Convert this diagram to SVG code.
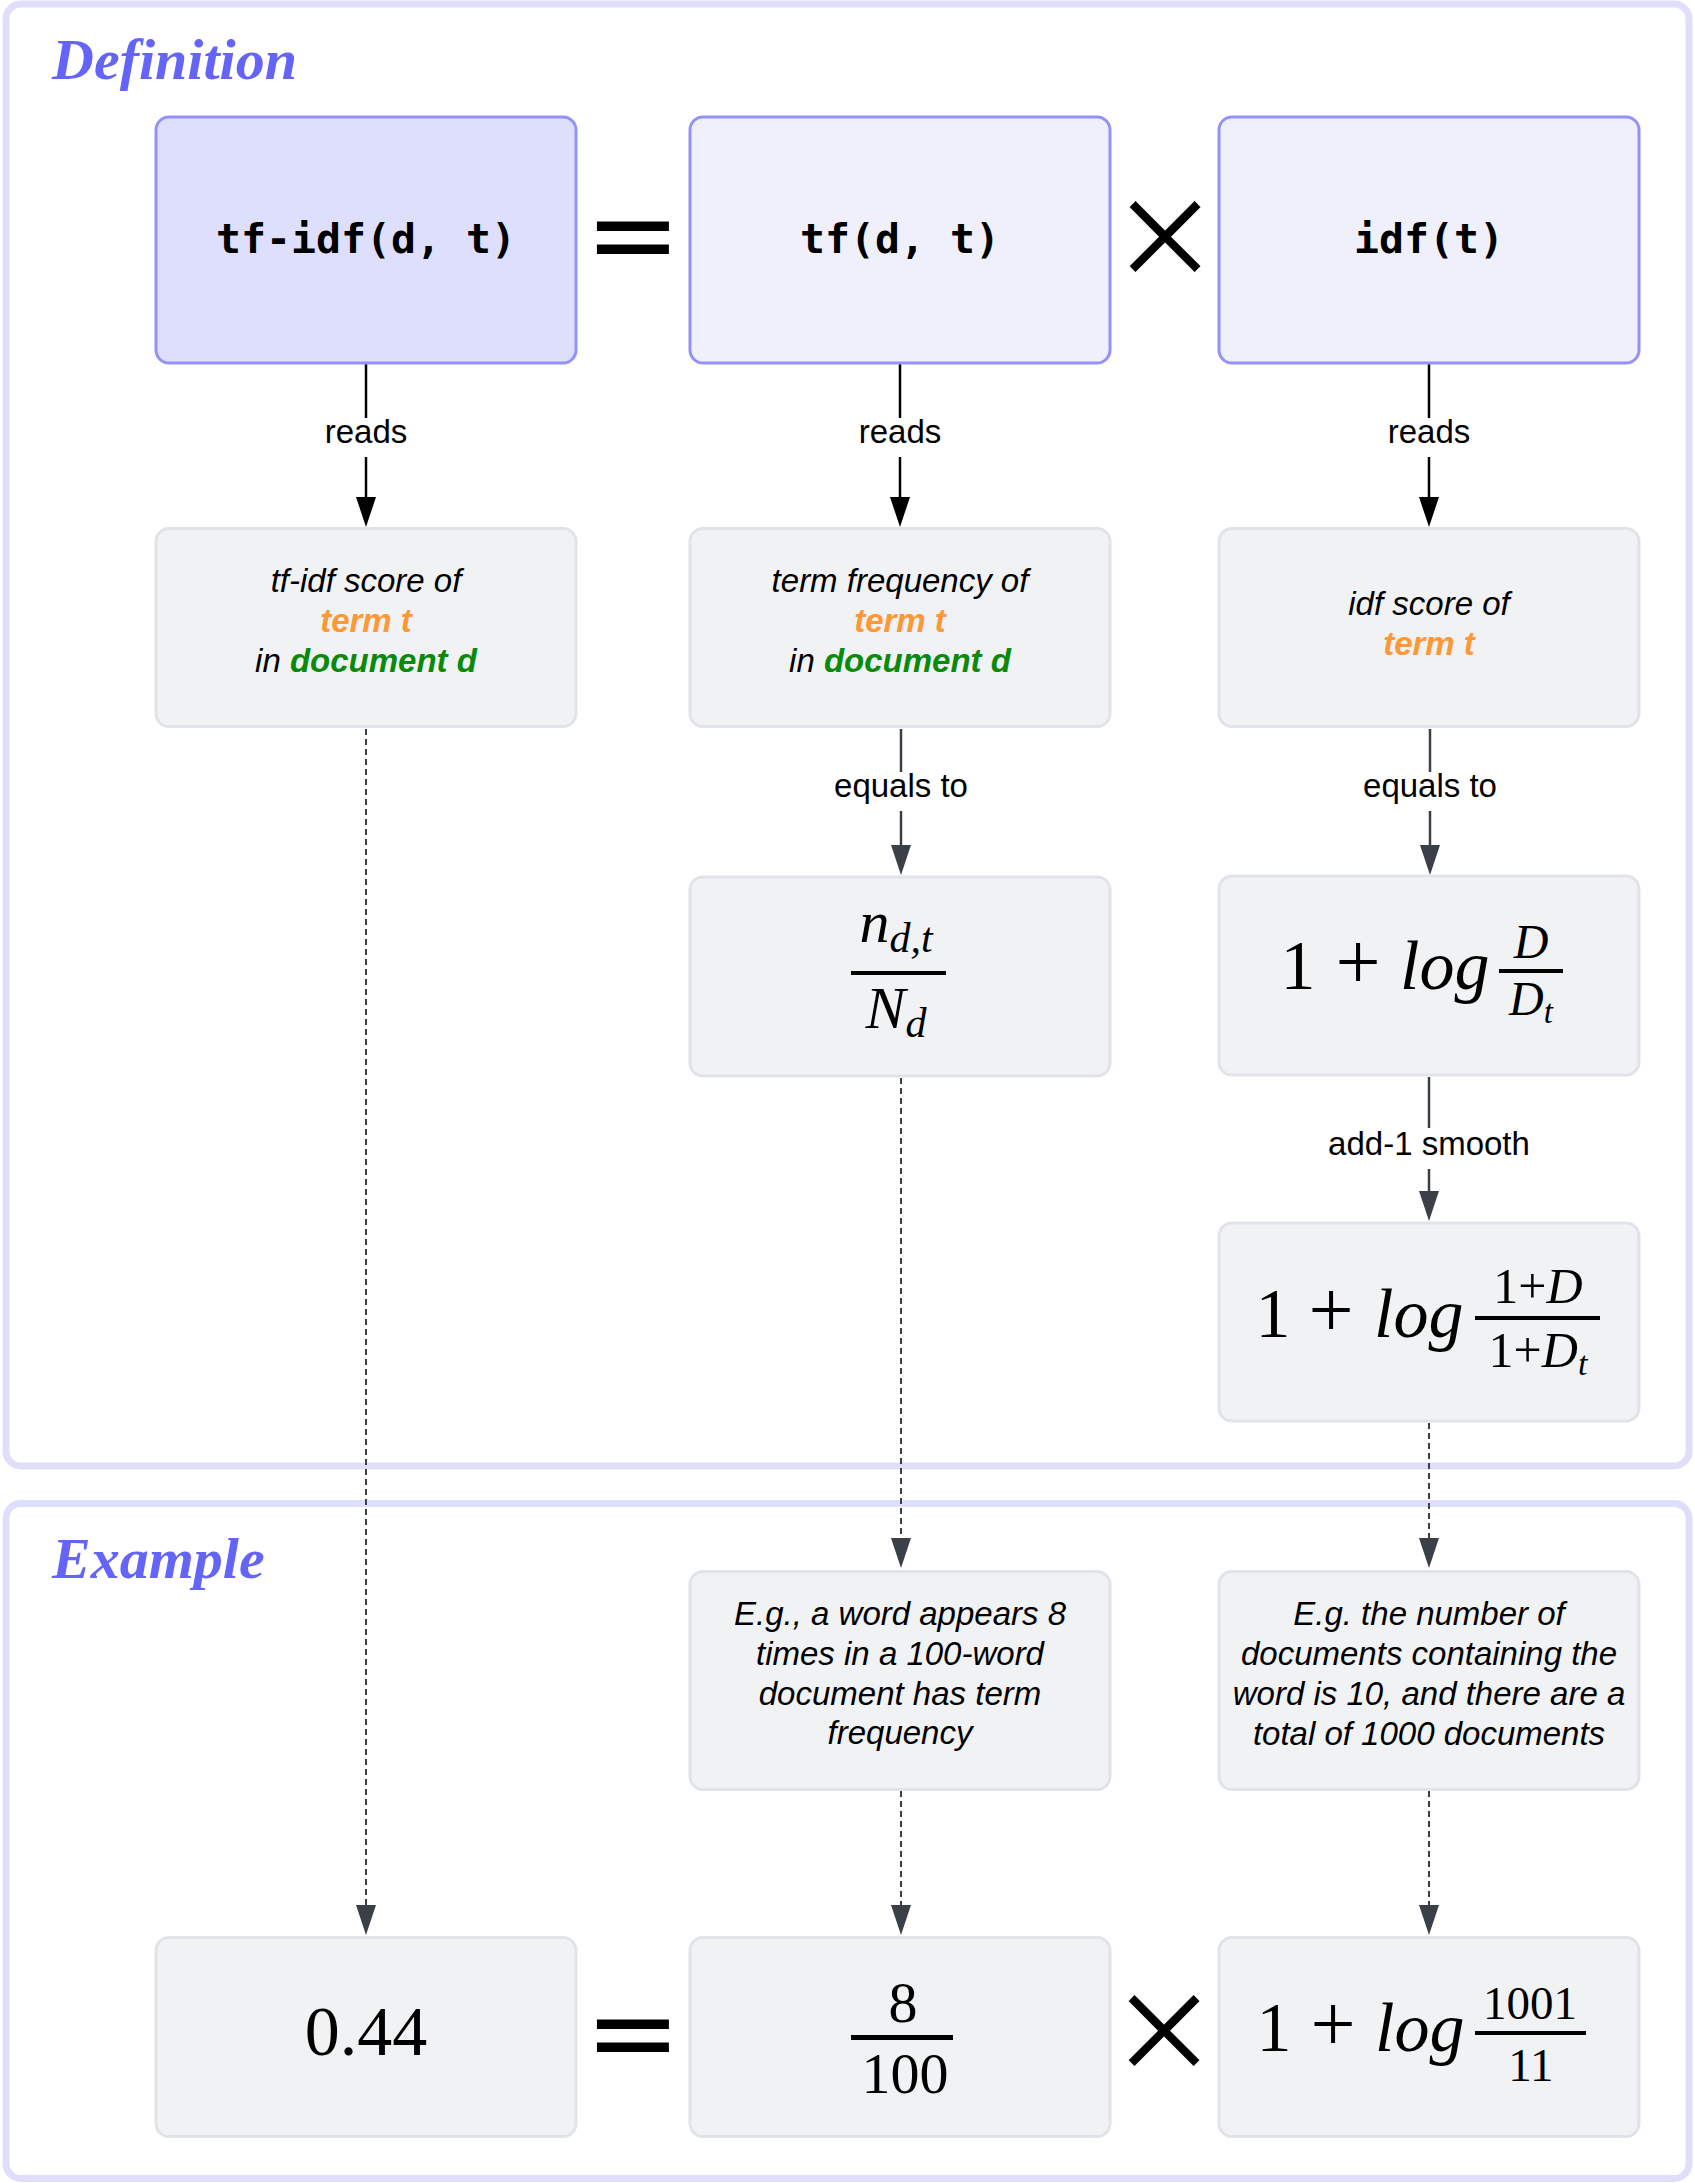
<svg xmlns="http://www.w3.org/2000/svg" width="1695" height="2183" viewBox="0 0 1695 2183">
<defs>
<style>
.container{fill:#ffffff;stroke:#dfdffc;stroke-width:7}
.title{font-family:"Liberation Serif",serif;font-weight:bold;font-style:italic;font-size:58px;fill:#6464f8}
.hdr-main{fill:#dedefd;stroke:#9292f8;stroke-width:3}
.hdr{fill:#f0f0fd;stroke:#9292f8;stroke-width:3}
.gray{fill:#f1f2f4;stroke:#e1e3e8;stroke-width:3}
.mono{font-family:"DejaVu Sans Mono",monospace;font-weight:bold;font-size:41.5px;fill:#000;text-anchor:middle}
.desc{font-family:"Liberation Sans",Arial,sans-serif;font-style:italic;font-size:33px;fill:#000;text-anchor:middle}
.orange{fill:#fd9836;font-weight:bold}
.green{fill:#0a8a0a;font-weight:bold}
.lbl{font-family:"Liberation Sans",Arial,sans-serif;font-size:33px;fill:#000;text-anchor:middle}
.lblbg{fill:#ffffff}
.op{font-family:"DejaVu Sans",sans-serif;font-size:115px;fill:#000;text-anchor:middle}
.opx{font-family:"DejaVu Sans",sans-serif;font-size:132px;fill:#000;text-anchor:middle;stroke:#ffffff;stroke-width:2.5}
.math{font-family:"Liberation Serif","Times New Roman",serif;fill:#000}
.big{font-size:70px;text-anchor:middle}
.plus{font-size:80px;text-anchor:middle}
.it{font-style:italic}
.bar{fill:#000}
.solid-k{stroke:#000;stroke-width:2.5;fill:none}
.solid-g{stroke:#3b4048;stroke-width:2.5;fill:none}
.dash-g{stroke:#3b4048;stroke-width:2;fill:none;stroke-dasharray:6 4}
</style>
<marker id="ahK" markerUnits="userSpaceOnUse" markerWidth="30" markerHeight="20" refX="18" refY="10" orient="auto"><path d="M0,0 L30,10 L0,20 z" fill="#000"/></marker>
<marker id="ahG" markerUnits="userSpaceOnUse" markerWidth="30" markerHeight="20" refX="18" refY="10" orient="auto"><path d="M0,0 L30,10 L0,20 z" fill="#3b4048"/></marker>
</defs>
<rect width="1695" height="2183" fill="#ffffff"/>

<g id="cluster-definition">
<rect class="container" x="6" y="4" width="1683" height="1462" rx="15"/>
<text class="title" x="52" y="79" font-size="59.5">Definition</text>
</g>
<g id="cluster-example">
<rect class="container" x="6" y="1503.5" width="1683" height="675" rx="15"/>
<text class="title" x="52" y="1578">Example</text>
</g>

<g id="connectors">
<line class="solid-k" x1="366" y1="364" x2="366" y2="515" marker-end="url(#ahK)"/>
<line class="solid-k" x1="900" y1="364" x2="900" y2="515" marker-end="url(#ahK)"/>
<line class="solid-k" x1="1429" y1="364" x2="1429" y2="515" marker-end="url(#ahK)"/>
<line class="solid-g" x1="901" y1="729" x2="901" y2="863" marker-end="url(#ahG)"/>
<line class="solid-g" x1="1430" y1="729" x2="1430" y2="863" marker-end="url(#ahG)"/>
<line class="solid-g" x1="1429" y1="1077" x2="1429" y2="1209" marker-end="url(#ahG)"/>
<line class="dash-g" x1="366" y1="729" x2="366" y2="1923" marker-end="url(#ahG)"/>
<line class="dash-g" x1="901" y1="1078" x2="901" y2="1556" marker-end="url(#ahG)"/>
<line class="dash-g" x1="901" y1="1791" x2="901" y2="1923" marker-end="url(#ahG)"/>
<line class="dash-g" x1="1429" y1="1423" x2="1429" y2="1556" marker-end="url(#ahG)"/>
<line class="dash-g" x1="1429" y1="1791" x2="1429" y2="1923" marker-end="url(#ahG)"/>
<rect class="lblbg" x="323" y="418" width="86" height="39"/>
<text class="lbl" x="366" y="443">reads</text>
<rect class="lblbg" x="857" y="418" width="86" height="39"/>
<text class="lbl" x="900" y="443">reads</text>
<rect class="lblbg" x="1386" y="418" width="86" height="39"/>
<text class="lbl" x="1429" y="443">reads</text>
<rect class="lblbg" x="833" y="772" width="136" height="39"/>
<text class="lbl" x="901" y="797">equals to</text>
<rect class="lblbg" x="1362" y="772" width="136" height="39"/>
<text class="lbl" x="1430" y="797">equals to</text>
<rect class="lblbg" x="1325" y="1128" width="208" height="41"/>
<text class="lbl" x="1429" y="1155">add-1 smooth</text>
</g>

<g id="node-tfidf">
<rect class="hdr-main" x="156" y="117" width="420" height="246" rx="13"/>
<text class="mono" x="366" y="253">tf-idf(d, t)</text>
</g>
<g id="op-eq-1"><text class="op" x="633" y="274">=</text></g>
<g id="node-tf">
<rect class="hdr" x="690" y="117" width="420" height="246" rx="13"/>
<text class="mono" x="900" y="253">tf(d, t)</text>
</g>
<g id="op-times-1"><text class="opx" x="1165" y="278">×</text></g>
<g id="node-idf">
<rect class="hdr" x="1219" y="117" width="420" height="246" rx="13"/>
<text class="mono" x="1429" y="253">idf(t)</text>
</g>

<g id="node-tfidf-desc">
<rect class="gray" x="156" y="528.5" width="420" height="198" rx="13"/>
<text class="desc" x="366" y="592">tf-idf score of</text>
<text class="desc" x="366" y="632"><tspan class="orange">term t</tspan></text>
<text class="desc" x="366" y="672">in <tspan class="green">document d</tspan></text>
</g>
<g id="node-tf-desc">
<rect class="gray" x="690" y="528.5" width="420" height="198" rx="13"/>
<text class="desc" x="900" y="592">term frequency of</text>
<text class="desc" x="900" y="632"><tspan class="orange">term t</tspan></text>
<text class="desc" x="900" y="672">in <tspan class="green">document d</tspan></text>
</g>
<g id="node-idf-desc">
<rect class="gray" x="1219" y="528.5" width="420" height="198" rx="13"/>
<text class="desc" x="1429" y="615">idf score of</text>
<text class="desc" x="1429" y="655"><tspan class="orange">term t</tspan></text>
</g>

<g id="node-tf-formula">
<rect class="gray" x="690" y="877" width="420" height="199" rx="13"/>
<text class="math it" x="896" y="942" font-size="60" text-anchor="middle">n<tspan font-size="42" dy="10">d,t</tspan></text>
<rect class="bar" x="851" y="971" width="95" height="4"/>
<text class="math it" x="896" y="1028" font-size="60" text-anchor="middle">N<tspan font-size="42" dy="9">d</tspan></text>
</g>
<g id="node-idf-formula">
<rect class="gray" x="1219" y="876" width="420" height="199" rx="13"/>
<text class="math big" x="1298" y="989">1</text>
<text class="math plus" x="1358" y="989">+</text>
<text class="math it" x="1400" y="989" font-size="70">log</text>
<text class="math it" x="1531" y="958" font-size="48" text-anchor="middle">D</text>
<rect class="bar" x="1499" y="969" width="64" height="4"/>
<text class="math it" x="1531" y="1015" font-size="48" text-anchor="middle">D<tspan font-size="33" dy="8">t</tspan></text>
</g>
<g id="node-idf-smooth">
<rect class="gray" x="1219" y="1223" width="420" height="198" rx="13"/>
<text class="math big" x="1273" y="1337">1</text>
<text class="math plus" x="1331" y="1337">+</text>
<text class="math it" x="1374" y="1337" font-size="70">log</text>
<text class="math" x="1538" y="1303" font-size="50" text-anchor="middle">1+<tspan class="it">D</tspan></text>
<rect class="bar" x="1475" y="1316" width="125" height="4"/>
<text class="math" x="1538" y="1367" font-size="50" text-anchor="middle">1+<tspan class="it">D</tspan><tspan class="it" font-size="34" dy="8">t</tspan></text>
</g>

<g id="node-tf-example">
<rect class="gray" x="690" y="1571.5" width="420" height="218" rx="13"/>
<text class="desc" x="900" y="1625">E.g., a word appears 8</text>
<text class="desc" x="900" y="1665">times in a 100-word</text>
<text class="desc" x="900" y="1705">document has term</text>
<text class="desc" x="900" y="1744">frequency</text>
</g>
<g id="node-idf-example">
<rect class="gray" x="1219" y="1571.5" width="420" height="218" rx="13"/>
<text class="desc" x="1429" y="1625">E.g. the number of</text>
<text class="desc" x="1429" y="1665">documents containing the</text>
<text class="desc" x="1429" y="1705">word is 10, and there are a</text>
<text class="desc" x="1429" y="1745">total of 1000 documents</text>
</g>

<g id="node-result">
<rect class="gray" x="156" y="1937.5" width="420" height="199" rx="13"/>
<text class="math" x="366" y="2055" font-size="70" text-anchor="middle">0.44</text>
</g>
<g id="op-eq-2"><text class="op" x="633" y="2072">=</text></g>
<g id="node-tf-value">
<rect class="gray" x="690" y="1937.5" width="420" height="199" rx="13"/>
<text class="math" x="903" y="2022" font-size="58" text-anchor="middle">8</text>
<rect class="bar" x="851" y="2035" width="102" height="5"/>
<text class="math" x="905" y="2093" font-size="58" text-anchor="middle">100</text>
</g>
<g id="op-times-2"><text class="opx" x="1164" y="2072">×</text></g>
<g id="node-idf-value">
<rect class="gray" x="1219" y="1937.5" width="420" height="199" rx="13"/>
<text class="math big" x="1274" y="2051">1</text>
<text class="math plus" x="1333" y="2051">+</text>
<text class="math it" x="1375" y="2051" font-size="70">log</text>
<text class="math" x="1530" y="2019" font-size="47" text-anchor="middle">1001</text>
<rect class="bar" x="1475" y="2031" width="111" height="4"/>
<text class="math" x="1531" y="2081" font-size="47" text-anchor="middle">11</text>
</g>
</svg>
